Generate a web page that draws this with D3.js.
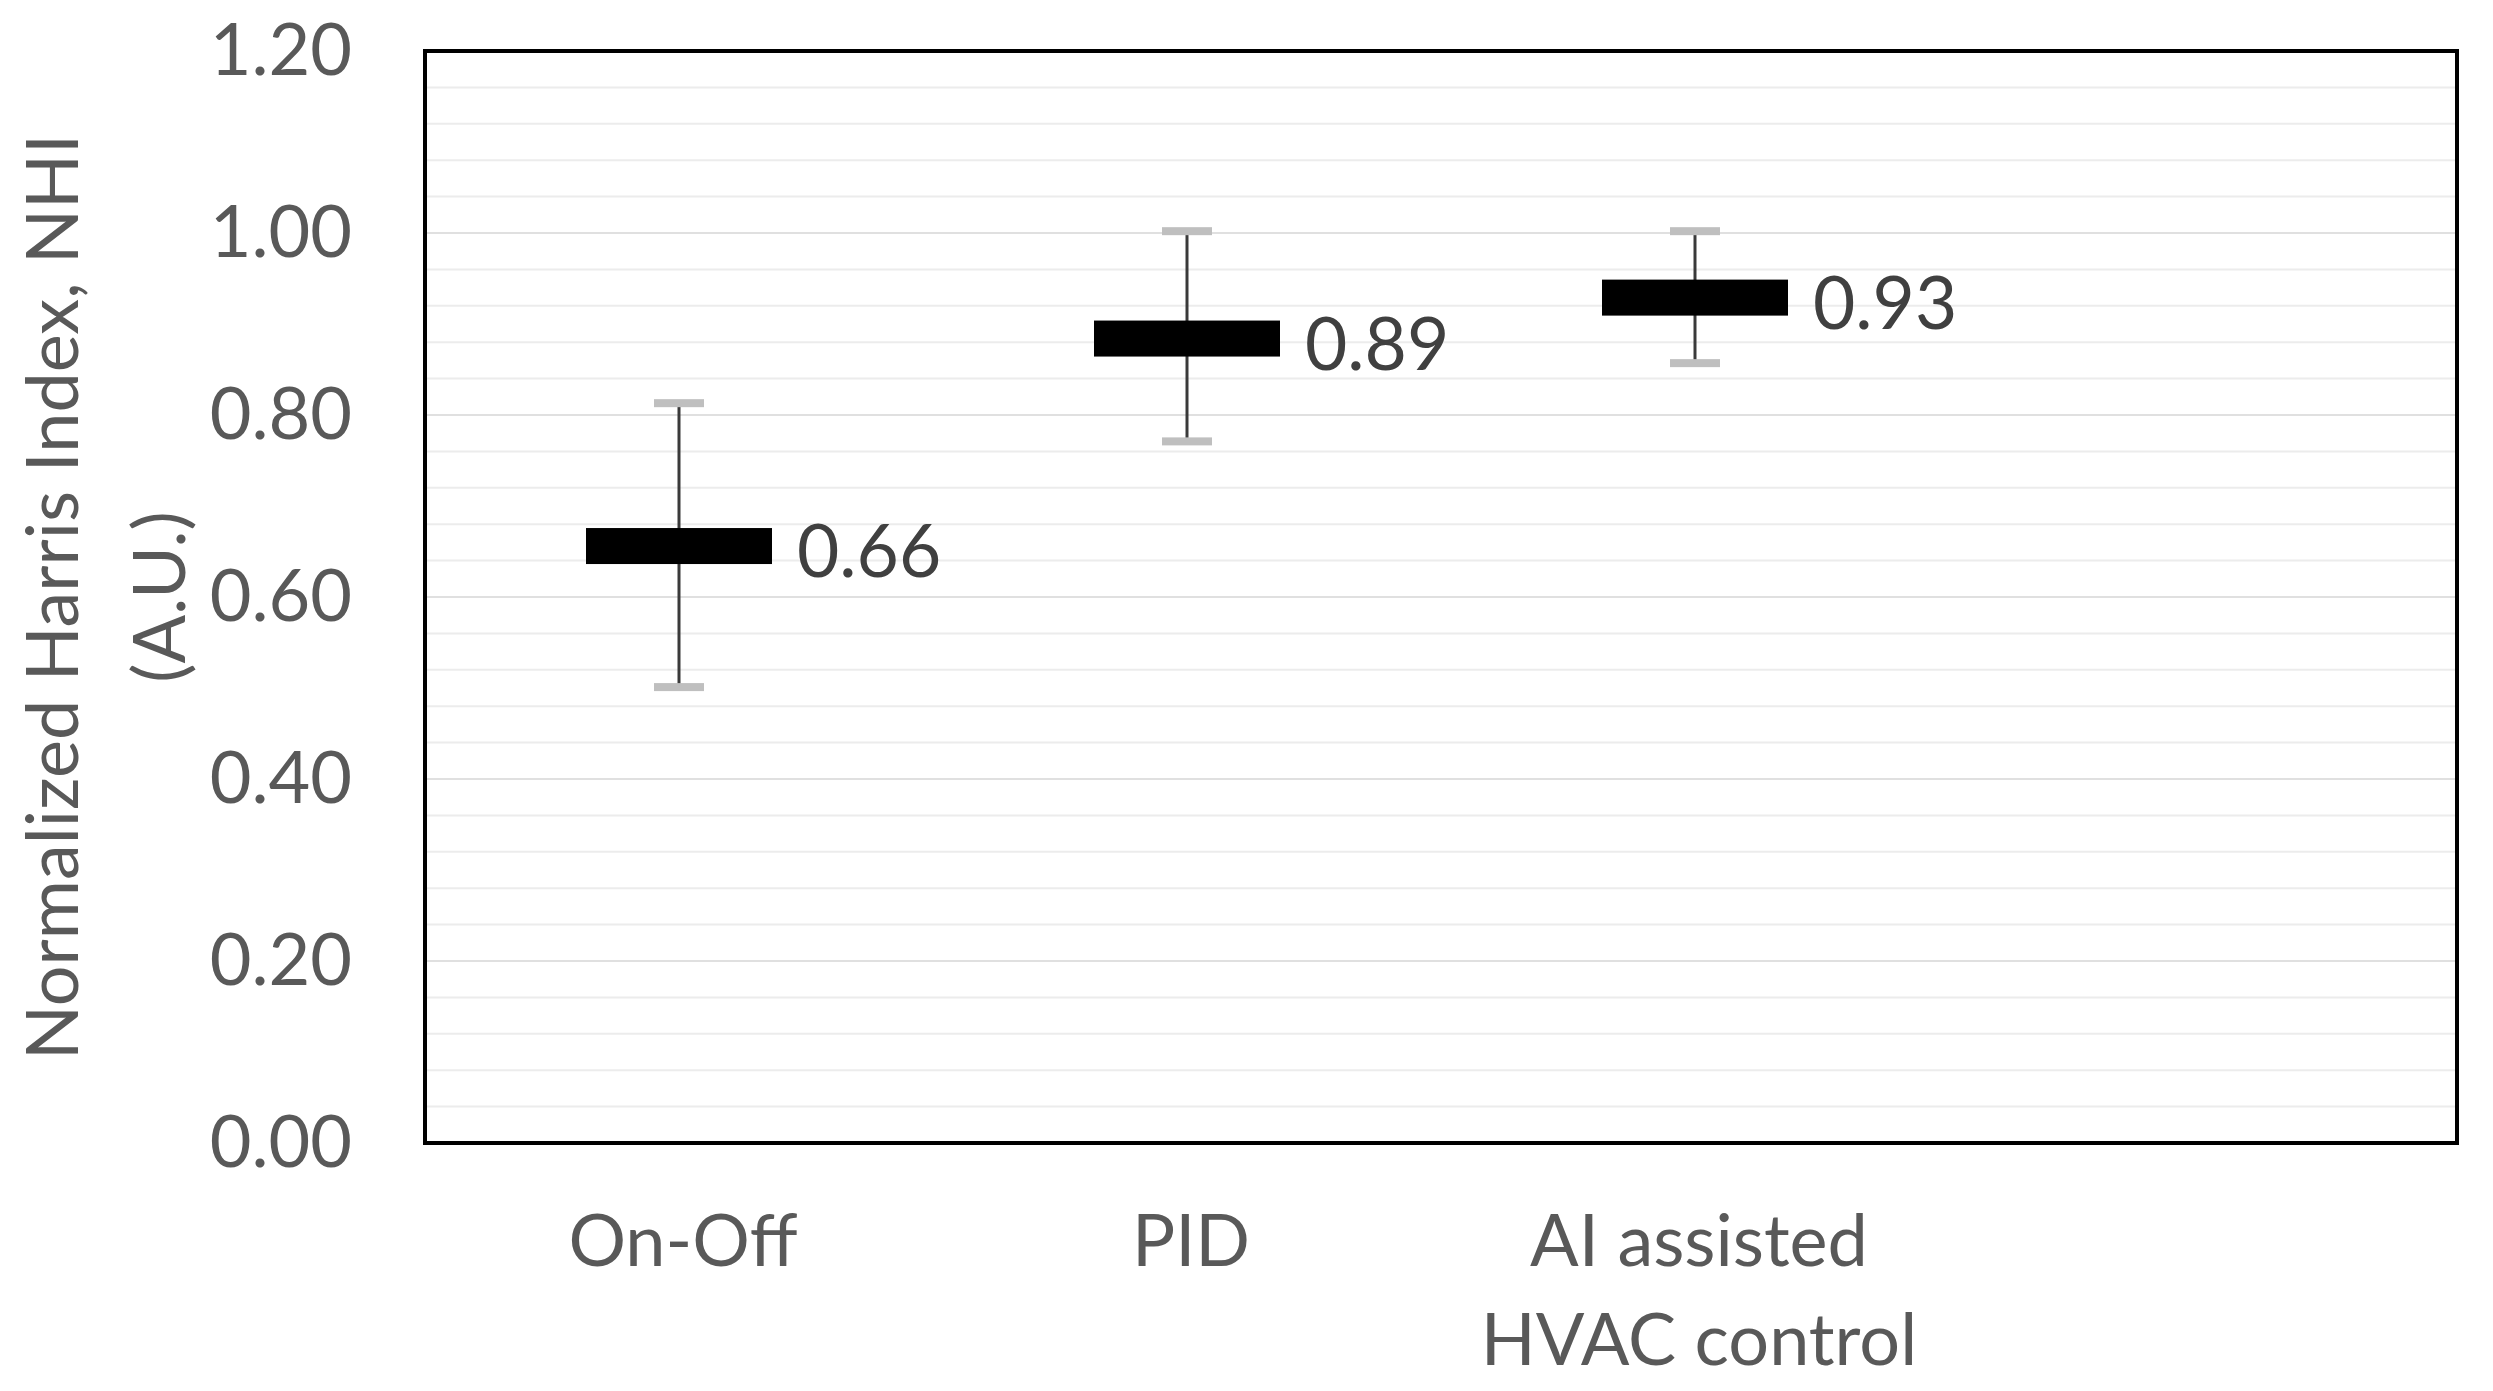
<!DOCTYPE html>
<html><head><meta charset="utf-8">
<script src="https://cdn.jsdelivr.net/npm/d3@7/dist/d3.min.js"></script>
<style>html,body{margin:0;padding:0;background:#fff;overflow:hidden;}</style>
</head><body>
<svg id="chart" width="2493" height="1391"></svg>
<script>
// ---- data ----
const categories = ["On-Off", "PID", "AI assisted\nHVAC control", ""];
const means = [0.656, 0.884, 0.929];
const lowerBounds = [0.501, 0.771, 0.857];
const upperBounds = [0.813, 1.002, 1.002];
const meanLabels = ["0.66", "0.89", "0.93"];
const yTicks = [0, 0.2, 0.4, 0.6, 0.8, 1.0, 1.2];
const yTickLabels = ["0.00", "0.20", "0.40", "0.60", "0.80", "1.00", "1.20"];
const minorGrid = d3.range(1, 30).map(i => +(i * 0.04).toFixed(2));
const yTitle = ["Normalized Harris Index, NHI", "(A.U.)"];

// ---- layout ----
const plot = {left: 425, right: 2457, top: 51, bottom: 1143};
const font = "Lato, 'Open Sans', sans-serif";
const svg = d3.select("#chart");

const x = d3.scaleBand().domain(categories).range([plot.left, plot.right]).padding(0);
const y = d3.scaleLinear().domain([0, 1.2]).range([plot.bottom, plot.top]);

// gridlines
svg.append("g").selectAll("line").data(minorGrid).join("line")
  .attr("x1", plot.left).attr("x2", plot.right)
  .attr("y1", d => y(d)).attr("y2", d => y(d))
  .attr("stroke", d => (Math.abs(d * 5 - Math.round(d * 5)) < 1e-6) ? "#e0e0e0" : "#ececec")
  .attr("stroke-width", 2);

// y axis tick labels via d3 axis
const yAxis = d3.axisLeft(y).tickValues(yTicks).tickSize(0).tickPadding(73)
  .tickFormat((d, i) => yTickLabels[i]);
const gy = svg.append("g").attr("transform", `translate(${plot.left},0)`).call(yAxis);
gy.select(".domain").remove();
gy.selectAll("text").attr("font-family", font).attr("font-size", 72).attr("fill", "#595959");

// x axis labels
const gx = svg.append("g");
categories.forEach(c => {
  if (!c) return;
  const lines = c.split("\n");
  const t = gx.append("text").attr("text-anchor", "middle")
    .attr("font-family", font).attr("font-size", 72).attr("fill", "#595959");
  lines.forEach((ln, i) => {
    t.append("tspan").attr("x", x(c) + x.bandwidth() / 2 + 4).attr("y", 1266 + i * 99).text(ln);
  });
});

// y title
yTitle.forEach((t, i) => {
  svg.append("text")
    .attr("transform", `translate(${[50, 157][i]},${(plot.top + plot.bottom) / 2}) rotate(-90)`)
    .attr("text-anchor", "middle").attr("dominant-baseline", "central")
    .attr("font-family", font).attr("font-size", 72).attr("fill", "#595959")
    .text(t);
});

// error bars + mean markers
const data = means.map((m, i) => ({cat: categories[i], m, lo: lowerBounds[i], hi: upperBounds[i], label: meanLabels[i]}));
const cx = d => x(d.cat) + x.bandwidth() / 2;
const g = svg.append("g");
g.selectAll(".whisker").data(data).join("line")
  .attr("x1", cx).attr("x2", cx)
  .attr("y1", d => y(d.hi)).attr("y2", d => y(d.lo))
  .attr("stroke", "#3a3a3a").attr("stroke-width", 3);
["hi", "lo"].forEach(k => {
  g.selectAll(".cap-" + k).data(data).join("rect")
    .attr("x", d => cx(d) - 25).attr("width", 50)
    .attr("y", d => y(d[k]) - 4).attr("height", 8)
    .attr("fill", "#bfbfbf");
});
g.selectAll(".mean").data(data).join("rect")
  .attr("x", d => cx(d) - 93).attr("width", 186)
  .attr("y", d => y(d.m) - 18).attr("height", 36)
  .attr("fill", "#000");
g.selectAll(".lbl").data(data).join("text")
  .attr("x", d => cx(d) + 118).attr("y", d => y(d.m) + 3)
  .attr("dominant-baseline", "central")
  .attr("font-family", font).attr("font-size", 73).attr("fill", "#404040")
  .text(d => d.label);

// plot border
svg.append("rect")
  .attr("x", plot.left).attr("y", plot.top)
  .attr("width", plot.right - plot.left).attr("height", plot.bottom - plot.top)
  .attr("fill", "none").attr("stroke", "#000").attr("stroke-width", 4);
</script>
</body></html>
